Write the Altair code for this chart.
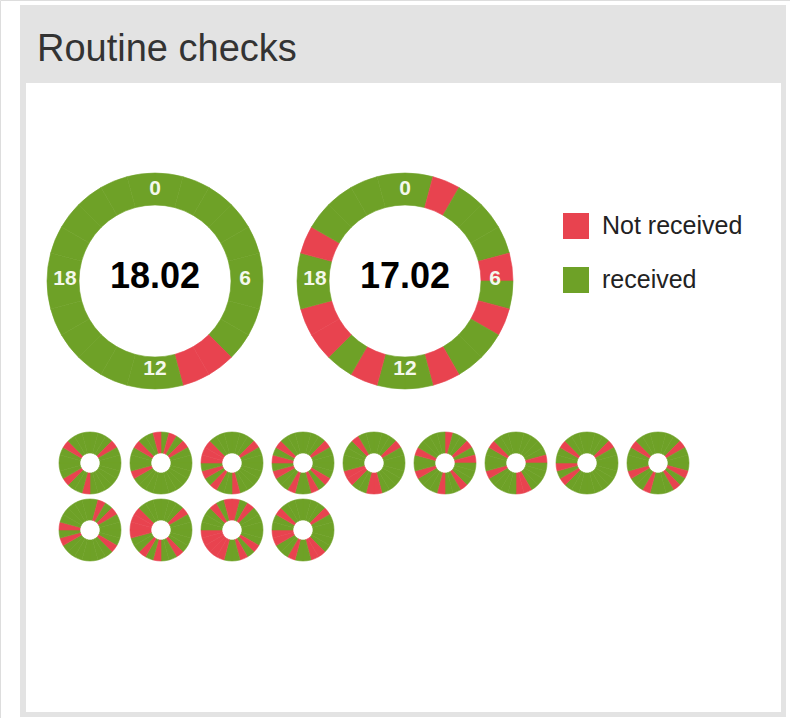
import altair as alt
import pandas as pd

W, H = 790, 718
FONT = "Liberation Sans, Arial, Helvetica, sans-serif"

panel_title = "Routine checks"
statuses = ["Not received", "received"]
status_colors = ["#e8434f", "#6ea127"]
hours = list(range(24))
clock_labels = [0, 6, 12, 18]

# Highlighted days: date shown in the middle and the hours with a missing check
day_labels = ["18.02", "17.02"]
day_missed = [
    [9, 10],
    [1, 5, 7, 10, 13, 15, 16, 19],
]

# Earlier days, small rings, hours with a missing check
history_missed = [
    [3, 12, 15, 20],
    [1, 3, 16, 20, 23],
    [3, 11, 14, 16, 18, 19, 20],
    [3, 8, 10, 13, 16, 18, 20],
    [3, 11, 12, 15, 16, 21],
    [0, 3, 5, 9, 12, 16, 19],
    [5, 10, 11, 16, 20],
    [3, 15, 17, 20],
    [3, 7, 9, 13, 16, 20],
    [1, 3, 8, 16, 18],
    [3, 9, 12, 14, 17, 18, 19, 20],
    [0, 2, 8, 10, 13, 14, 15, 16, 17, 21, 23],
    [3, 9, 10, 13, 16, 17, 20],
]


def ring_rows(missed_lists):
    rows = []
    for ring, missed in enumerate(missed_lists):
        for h in hours:
            rows.append({
                "ring": ring,
                "hour": h,
                "hour_end": h + 1,
                "status": statuses[0] if h in missed else statuses[1],
            })
    return pd.DataFrame(rows)


big_df = ring_rows(day_missed)
small_df = ring_rows(history_missed)
label_df = pd.DataFrame(
    [{"ring": r, "hour": h} for r in range(len(day_labels)) for h in clock_labels]
)
date_df = pd.DataFrame({"ring": range(len(day_labels)), "date": day_labels})

# pixel-space scales covering the whole canvas
xs = alt.Scale(domain=[0, W], range=[0, W], nice=False, zero=False)
ys = alt.Scale(domain=[0, H], range=[0, H], nice=False, zero=False)
ts = alt.Scale(domain=[0, 24], range=[0, 6.283185307])
color_scale = alt.Scale(domain=statuses, range=status_colors)

pos = dict(
    x=alt.X("cx:Q", scale=xs, axis=None),
    y=alt.Y("cy:Q", scale=ys, axis=None),
)
big_xy = {"cx": "155 + 250 * datum.ring", "cy": "281"}
small_xy = {"cx": "90 + 71 * (datum.ring % 9)", "cy": "463 + 67 * floor(datum.ring / 9)"}

legend = alt.Legend(
    title=None, orient="none", legendX=563, legendY=213, padding=0,
    symbolType="square", symbolSize=676, symbolStrokeWidth=0,
    labelFont=FONT, labelFontSize=25, labelColor="#222222",
    labelOffset=13, rowPadding=28,
)

one_row = alt.Data(values=[{}])

frame = alt.Chart(one_row).mark_rect(color="#e3e3e3").encode(
    x=alt.value(20), x2=alt.value(786), y=alt.value(5), y2=alt.value(717)
)
body = alt.Chart(one_row).mark_rect(color="#ffffff").encode(
    x=alt.value(26), x2=alt.value(781), y=alt.value(83), y2=alt.value(712)
)
title = alt.Chart(pd.DataFrame({"t": [panel_title]})).mark_text(
    align="left", baseline="alphabetic", font=FONT, fontSize=38, color="#333333"
).encode(x=alt.value(37), y=alt.value(61), text="t:N")

arc_enc = dict(
    theta=alt.Theta("hour:Q", scale=ts, stack=None),
    theta2=alt.Theta2("hour_end:Q"),
    color=alt.Color("status:N", scale=color_scale, legend=legend),
    stroke=alt.Stroke("status:N", scale=color_scale, legend=legend),
)

big_rings = alt.Chart(big_df).transform_calculate(**big_xy).mark_arc(
    innerRadius=76, outerRadius=108, strokeWidth=0.6
).encode(**pos, **arc_enc)

small_rings = alt.Chart(small_df).transform_calculate(**small_xy).mark_arc(
    innerRadius=10, outerRadius=31, strokeWidth=0.6
).encode(**pos, **arc_enc)

clock = alt.Chart(label_df).transform_calculate(**big_xy).mark_text(
    radius=90, font=FONT, fontSize=21, fontWeight="bold", color="#f4f8ec",
    baseline="middle", align="center", dy=-2
).encode(
    **pos,
    theta=alt.Theta("hour:Q", scale=ts, stack=None),
    text=alt.Text("hour:Q"),
)

dates = alt.Chart(date_df).transform_calculate(**big_xy).mark_text(
    font=FONT, fontSize=36, fontWeight="bold", color="#000000",
    baseline="alphabetic", align="center", dy=7
).encode(**pos, text="date:N")

chart = alt.layer(frame, body, title, big_rings, small_rings, clock, dates).properties(
    width=W, height=H, padding=0, autosize=alt.AutoSizeParams(type="none")
).configure_view(stroke=None).configure(background="#ffffff")

chart.save("out.html", embed_options={"renderer": "svg", "actions": False})
